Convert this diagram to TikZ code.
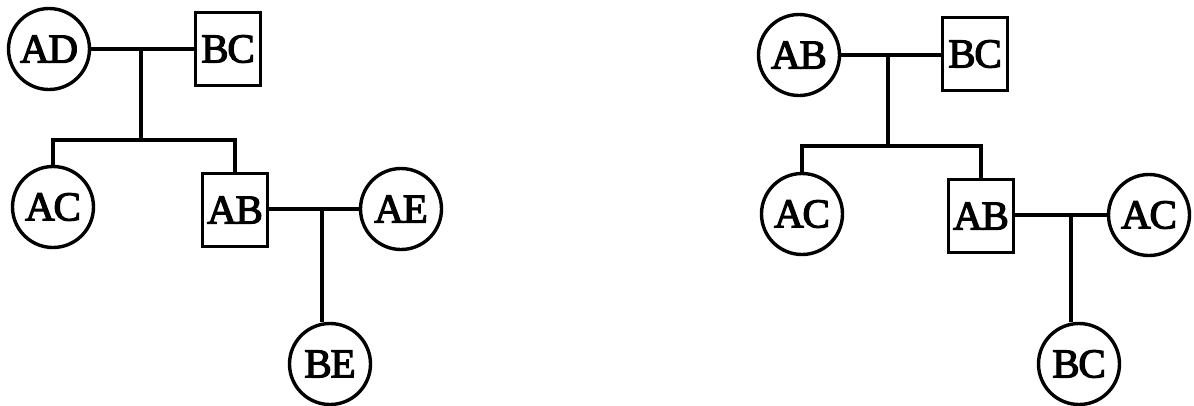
\documentclass[tikz,border=0pt]{standalone}
\usepackage{fontspec}
\setmainfont{Liberation Serif}
\newfontfamily\pedfont{Liberation Serif}[FakeBold=3,LetterSpace=-3]
\begin{document}
\begin{tikzpicture}[x=1pt,y=-1pt,
  line width=3.4pt,
  fem/.style={draw,circle,minimum size=81pt,inner sep=0pt,font=\pedfont\fontsize{41}{41}\selectfont},
  mal/.style={draw,rectangle,minimum width=65pt,minimum height=73pt,inner sep=0pt,font=\pedfont\fontsize{41}{41}\selectfont},
  lnk/.style={line cap=butt}]
\useasboundingbox (0,0) rectangle (1194,405);
% left pedigree
\node[fem] (AD) at (49,49) {AD};
\node[mal] (BCa) at (228,49) {BC};
\node[fem] (ACa) at (53,207) {AC};
\node[mal] (ABa) at (235,210) {AB};
\node[fem] (AE) at (401,209) {AE};
\node[fem] (BE) at (330,364) {BE};
\coordinate (m1) at (141,49);
\coordinate (s1) at (141,140);
\coordinate (m2) at (322,209);
\draw[lnk] (AD.east) -- (BCa.west |- AD.east);
\draw[lnk] (m1) -- (s1);
\draw[lnk] (ACa.north) |- (s1) -| (ABa.north);
\draw[lnk] (ABa.east |- AE.west) -- (AE.west);
\draw[lnk] (m2) -- (m2 |- BE.north);
% right pedigree
\node[fem] (ABb) at (799,55) {AB};
\node[mal] (BCb) at (975,54) {BC};
\node[fem] (ACb) at (802,214) {AC};
\node[mal] (ABc) at (981,216) {AB};
\node[fem] (ACc) at (1149,215) {AC};
\node[fem] (BCc) at (1079,364) {BC};
\coordinate (m3) at (888,55);
\coordinate (s3) at (888,146);
\coordinate (m4) at (1071,215);
\draw[lnk] (ABb.east) -- (BCb.west |- ABb.east);
\draw[lnk] (m3) -- (s3);
\draw[lnk] (ACb.north) |- (s3) -| (ABc.north);
\draw[lnk] (ABc.east |- ACc.west) -- (ACc.west);
\draw[lnk] (m4) -- (m4 |- BCc.north);
\end{tikzpicture}
\end{document}
